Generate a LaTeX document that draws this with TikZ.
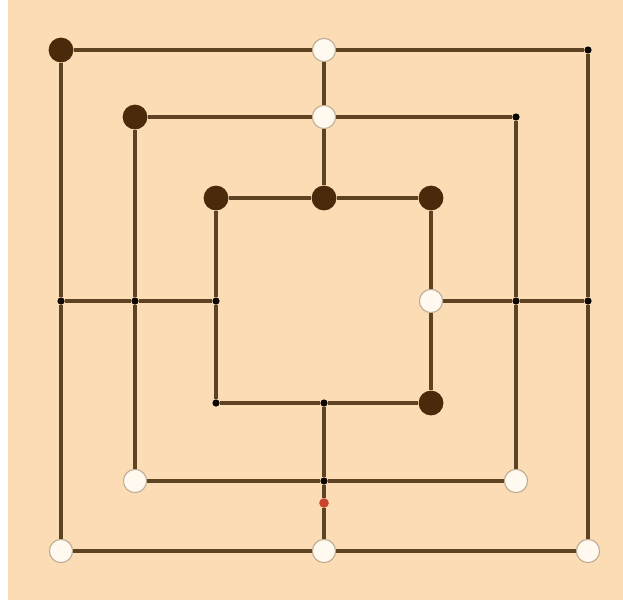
\documentclass[tikz,border=0pt]{standalone}
\usepackage{xcolor}
\definecolor{boardBg}{HTML}{FBDCB5}
\definecolor{boardLine}{HTML}{5E4323}
\definecolor{pieceDark}{HTML}{4B2A0C}
\definecolor{pieceLight}{HTML}{FFF9F0}
\definecolor{pieceRim}{HTML}{BFAE96}
\definecolor{markRed}{HTML}{C8442C}
\usepackage{tikz}

\begin{document}
\begin{tikzpicture}[
    x=0.025cm, y=-0.025cm,
    darkpiece/.style={circle, fill=pieceDark, inner sep=0pt, minimum size=0.62cm},
    lightpiece/.style={circle, draw=pieceRim, line width=0.8pt, fill=pieceLight, inner sep=0pt, minimum size=0.58cm},
    spot/.style={circle, fill=black!85!pieceDark, inner sep=0pt, minimum size=0.18cm},
    redspot/.style={circle, fill=markRed, inner sep=0pt, minimum size=0.24cm},
    boardline/.style={draw=boardLine, line width=2.8pt}
]

% page and board
\useasboundingbox (0,0) rectangle (623,600);
\fill[white] (0,0) rectangle (623,600);
\fill[boardBg] (8,0) rectangle (623,600);

% outer square
\node (oTL) [darkpiece] at (61,50) {};
\node (oTM) [lightpiece] at (324,50) {};
\node (oTR) [spot] at (588,50) {};
\node (oML) [spot] at (61,301) {};
\node (oMR) [spot] at (588,301) {};
\node (oBL) [lightpiece] at (61,551) {};
\node (oBM) [lightpiece] at (324,551) {};
\node (oBR) [lightpiece] at (588,551) {};

% middle square
\node (mTL) [darkpiece] at (135,117) {};
\node (mTM) [lightpiece] at (324,117) {};
\node (mTR) [spot] at (516,117) {};
\node (mML) [spot] at (135,301) {};
\node (mMR) [spot] at (516,301) {};
\node (mBL) [lightpiece] at (135,481) {};
\node (mBM) [spot] at (324,481) {};
\node (mBR) [lightpiece] at (516,481) {};

% inner square
\node (iTL) [darkpiece] at (216,198) {};
\node (iTM) [darkpiece] at (324,198) {};
\node (iTR) [darkpiece] at (431,198) {};
\node (iML) [spot] at (216,301) {};
\node (iMR) [lightpiece] at (431,301) {};
\node (iBL) [spot] at (216,403) {};
\node (iBM) [spot] at (324,403) {};
\node (iBR) [darkpiece] at (431,403) {};

% last move marker
\node (lastmove) [redspot] at (324,503) {};

% squares
\draw[boardline] (oTL) -- (oTM) -- (oTR) -- (oMR) -- (oBR) -- (oBM) -- (oBL) -- (oML) -- (oTL);
\draw[boardline] (mTL) -- (mTM) -- (mTR) -- (mMR) -- (mBR) -- (mBM) -- (mBL) -- (mML) -- (mTL);
\draw[boardline] (iTL) -- (iTM) -- (iTR) -- (iMR) -- (iBR) -- (iBM) -- (iBL) -- (iML) -- (iTL);

% cross lines
\draw[boardline] (oTM) -- (mTM) -- (iTM);
\draw[boardline] (iBM) -- (mBM) -- (lastmove) -- (oBM);
\draw[boardline] (oML) -- (mML) -- (iML);
\draw[boardline] (iMR) -- (mMR) -- (oMR);

\end{tikzpicture}
\end{document}
